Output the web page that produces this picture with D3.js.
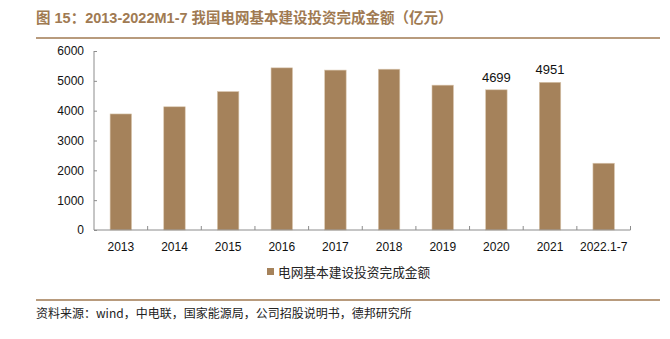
<!DOCTYPE html>
<html><head><meta charset="utf-8">
<script src="https://cdn.jsdelivr.net/npm/d3@7/dist/d3.min.js"></script>
<style>body{margin:0;background:#fff;} svg{display:block;}</style>
</head><body>
<script>
const categories = ["2013","2014","2015","2016","2017","2018","2019","2020","2021","2022.1-7"];
const values = [3890, 4130, 4640, 5435, 5360, 5390, 4855, 4699, 4951, 2238];
const labeled = ["2020","2021"];
const yTicks = [0,1000,2000,3000,4000,5000,6000];
const seriesName = "电网基本建设投资完成金额";
const titleText = "图 15：2013-2022M1-7 我国电网基本建设投资完成金额（亿元）";
const sourceText = "资料来源：wind，中电联，国家能源局，公司招股说明书，德邦研究所";

const W = 670, H = 339;
const barColor = "#a5825b", brown = "#a07a52", axisColor = "#8c8c8c";
const svg = d3.select("body").append("svg").attr("width", W).attr("height", H);

svg.append("text").attr("x", 36).attr("y", 23)
  .attr("font-family", "'Liberation Sans', 'Noto Sans CJK SC', sans-serif")
  .attr("font-weight", "bold").attr("font-size", 14.5).attr("fill", brown)
  .text(titleText);
svg.append("line").attr("x1", 36).attr("x2", 660).attr("y1", 38).attr("y2", 38)
  .attr("stroke", brown).attr("stroke-width", 1.5);

const x = d3.scaleBand().domain(categories).range([94, 630.5]).paddingInner(0.6).paddingOuter(0.3);
const y = d3.scaleLinear().domain([0, 6000]).range([230, 51]);

const g = svg.append("g");
g.selectAll("rect.bar").data(categories).enter().append("rect")
  .attr("class","bar")
  .attr("x", d => x(d)).attr("width", x.bandwidth())
  .attr("y", (d,i) => y(values[i])).attr("height", (d,i) => y(0) - y(values[i]))
  .attr("fill", barColor).attr("stroke", "#d9c6ae").attr("stroke-width", 0.6);

g.selectAll("text.lbl").data(categories.filter(c => labeled.includes(c))).enter().append("text")
  .attr("class","lbl")
  .attr("x", d => x(d) + x.bandwidth()/2)
  .attr("y", d => y(values[categories.indexOf(d)]) - 8)
  .attr("text-anchor","middle").attr("font-family","'Liberation Sans', Arial, sans-serif")
  .attr("font-size", 13).attr("fill","#111")
  .text(d => values[categories.indexOf(d)]);

// y axis
const yAxis = svg.append("g").attr("transform","translate(94,0)")
  .call(d3.axisRight(y).tickValues(yTicks).tickSize(3).tickFormat(d3.format("d")));
yAxis.select(".domain").attr("stroke", axisColor).attr("d", `M0,${y(6000)}V${y(0)}`);
yAxis.selectAll(".tick line").attr("stroke", axisColor);
yAxis.selectAll(".tick text").attr("x", -10).attr("text-anchor","end")
  .attr("font-family","'Liberation Sans', Arial, sans-serif").attr("font-size", 12).attr("fill","#111");

// x axis
const xAxis = svg.append("g").attr("transform",`translate(0,${y(0)})`)
  .call(d3.axisBottom(x).tickSize(0).tickPadding(12));
xAxis.select(".domain").attr("stroke", axisColor).attr("d", `M94,0H630.5`);
xAxis.selectAll(".tick text").attr("font-family","'Liberation Sans', Arial, sans-serif")
  .attr("font-size", 12).attr("fill","#111");
const bounds = categories.map(c => x(c) - x.step()*x.paddingInner()/2).slice(1).concat([630.5]);
xAxis.selectAll("line.bt").data(bounds).enter().append("line").attr("class","bt")
  .attr("x1", d => d).attr("x2", d => d).attr("y1", 0).attr("y2", -4)
  .attr("stroke", axisColor);

// legend
svg.append("rect").attr("x", 267).attr("y", 268).attr("width", 7).attr("height", 7).attr("fill", barColor);
svg.append("text").attr("x", 278).attr("y", 276.5)
  .attr("font-family","'Noto Sans CJK SC', sans-serif").attr("font-size", 12.7).attr("fill","#222")
  .text(seriesName);

// footer
svg.append("line").attr("x1", 36).attr("x2", 660).attr("y1", 300).attr("y2", 300)
  .attr("stroke", brown).attr("stroke-width", 1.5);
svg.append("text").attr("x", 36).attr("y", 318)
  .attr("font-family","'Noto Sans CJK SC', sans-serif").attr("font-size", 12).attr("fill","#222")
  .text(sourceText);
</script>
</body></html>
